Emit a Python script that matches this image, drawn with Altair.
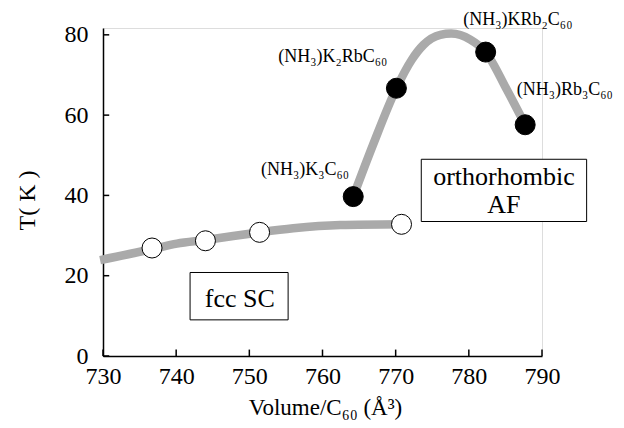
import altair as alt
import pandas as pd

FONT = "Liberation Serif"

# fcc SC data (open circles) and guide curve
fcc_vol = [736.7, 744.0, 751.4, 770.8]
fcc_T = [26.9, 28.7, 30.8, 32.8]
fcc_curve_vol = [729.6, 736.7, 740.1, 744.0, 747.8, 751.4, 756.0, 762.4, 770.8]
fcc_curve_T = [23.9, 26.6, 28.0, 28.9, 29.9, 30.8, 31.8, 32.6, 32.8]

# orthorhombic AF data (filled circles) and guide curve
af_vol = [764.2, 770.1, 782.3, 787.7]
af_T = [39.7, 66.7, 75.7, 57.6]
af_curve_vol = [764.2, 766.9, 770.1, 772.2, 773.8, 776.1, 777.6, 780.2, 782.3, 785.2, 787.7]
af_curve_T = [39.7, 52.6, 66.7, 73.8, 77.5, 80.0, 80.3, 78.8, 75.7, 66.3, 57.6]

# compound labels
lab_text = ["(NH₃)K₃C₆₀", "(NH₃)K₂RbC₆₀", "(NH₃)KRb₂C₆₀", "(NH₃)Rb₃C₆₀"]
lab_vol = [757.6, 761.4, 786.7, 793.1]
lab_T = [45.0, 73.3, 82.5, 65.0]

# phase boxes
box_text = ["fcc SC", "orthorhombic\nAF"]
box_x1 = [741.9, 773.5]
box_x2 = [755.3, 796.1]
box_y1 = [9.0, 33.5]
box_y2 = [20.8, 49.0]
box_tx = [748.7, 784.8]
box_ty = [12.3, 42.6]

x_ticks = [730, 740, 750, 760, 770, 780, 790]
y_ticks = [0, 20, 40, 60, 80]

xs = alt.Scale(domain=[730, 790], nice=False, zero=False)
ys = alt.Scale(domain=[0, 81.7], nice=False, zero=False)

df_fcc = pd.DataFrame({"v": fcc_vol, "T": fcc_T})
df_fcc_c = pd.DataFrame({"v": fcc_curve_vol, "T": fcc_curve_T})
df_af = pd.DataFrame({"v": af_vol, "T": af_T})
df_af_c = pd.DataFrame({"v": af_curve_vol, "T": af_curve_T})
df_lab = pd.DataFrame({"t": lab_text, "v": lab_vol, "T": lab_T})
df_box = pd.DataFrame({"x1": box_x1, "x2": box_x2, "y1": box_y1, "y2": box_y2})
df_btxt = pd.DataFrame({"t": [s.split("\n") for s in box_text], "v": box_tx, "T": box_ty})
df_xt = pd.DataFrame({"v": x_ticks, "a": [0.0] * len(x_ticks), "b": [1.6] * len(x_ticks)})
df_yt = pd.DataFrame({"T": y_ticks, "a": [730.0] * len(y_ticks), "b": [730.85] * len(y_ticks)})

x_axis = alt.Axis(
    values=x_ticks, tickSize=0, grid=False, labelFont=FONT, labelFontSize=24,
    labelColor="black", labelPadding=8, labelFlush=False, labelOverlap=False,
    domainColor="black", domainWidth=1.5,
    title="Volume/C₆₀ (Å³)", titleFont=FONT, titleFontSize=23, titleFontWeight="normal",
    titleColor="black", titleBaseline="alphabetic", titleY=58, titleX=222,
)
y_axis = alt.Axis(
    values=y_ticks, tickSize=0, grid=False, labelFont=FONT, labelFontSize=24,
    labelColor="black", labelPadding=15, labelFlush=False, labelOverlap=False,
    domainColor="black", domainWidth=1.5,
    title="T( K )", titleFont=FONT, titleFontSize=24, titleFontWeight="normal",
    titleColor="black", titleAngle=270, titleBaseline="middle", titleAlign="center",
    titleX=-76, titleY=172,
)

base_x = alt.X("v:Q", scale=xs, axis=x_axis)
base_y = alt.Y("T:Q", scale=ys, axis=y_axis)

fcc_line = alt.Chart(df_fcc_c).mark_line(
    color="#aaaaaa", strokeWidth=8.5, interpolate="monotone", clip=False, strokeCap="butt"
).encode(x=base_x, y=base_y)

af_line = alt.Chart(df_af_c).mark_line(
    color="#aaaaaa", strokeWidth=8.5, interpolate="monotone", clip=False, strokeCap="butt"
).encode(x="v:Q", y="T:Q")

fcc_pts = alt.Chart(df_fcc).mark_point(
    shape="circle", filled=True, fill="white", stroke="black", strokeWidth=1, size=400,
    opacity=1, clip=False
).encode(x="v:Q", y="T:Q")

af_pts = alt.Chart(df_af).mark_point(
    shape="circle", filled=True, fill="black", stroke="black", strokeWidth=1, size=400,
    opacity=1, clip=False
).encode(x="v:Q", y="T:Q")

labels = alt.Chart(df_lab).mark_text(
    font=FONT, fontSize=18, color="black", align="center", baseline="alphabetic", clip=False
).encode(x="v:Q", y="T:Q", text="t:N")

boxes = alt.Chart(df_box).mark_rect(
    fill="white", stroke="black", strokeWidth=1, clip=False
).encode(x="x1:Q", x2="x2:Q", y="y1:Q", y2="y2:Q")

box_txt = alt.Chart(df_btxt).mark_text(
    font=FONT, fontSize=26, color="black", align="center", baseline="alphabetic",
    lineHeight=28, clip=False
).encode(x="v:Q", y="T:Q", text="t")

xticks = alt.Chart(df_xt).mark_rule(color="black", strokeWidth=1.5, clip=False).encode(
    x="v:Q", y="a:Q", y2="b:Q"
)
yticks = alt.Chart(df_yt).mark_rule(color="black", strokeWidth=1.5, clip=False).encode(
    y="T:Q", x="a:Q", x2="b:Q"
)

chart = alt.layer(
    fcc_line, af_line, boxes, box_txt, fcc_pts, af_pts, labels, xticks, yticks
).properties(
    width=439, height=328, autosize="none",
    padding={"left": 95, "top": 20, "right": 74, "bottom": 64},
).configure_view(stroke=None).configure(background="white")

chart.save("out.html", embed_options={"renderer": "svg", "actions": False})
